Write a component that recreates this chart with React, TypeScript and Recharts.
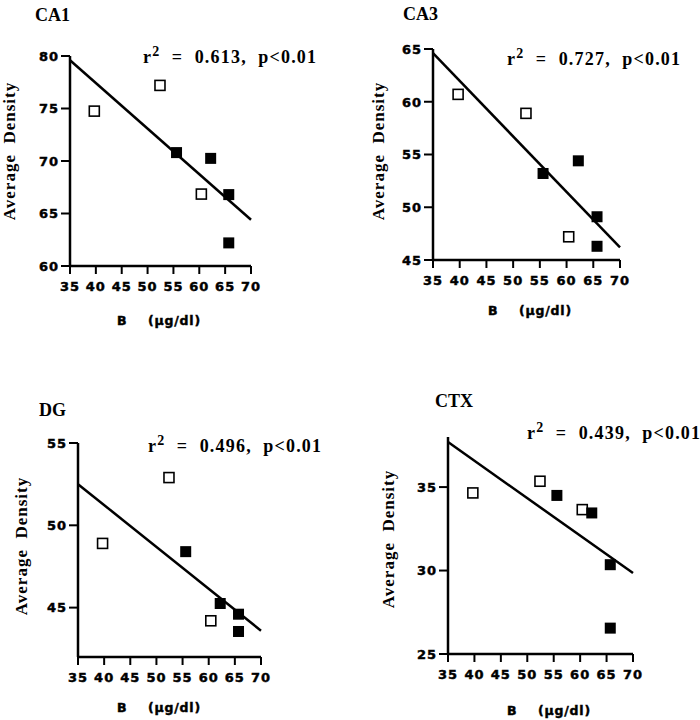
import { ScatterChart, Scatter, XAxis, YAxis, ReferenceLine } from "recharts";

// x values (blood lead, µg/dl) shared by all four regions
const OPEN_B = [39.7, 52.4, 60.4];
const FILLED_B = [55.6, 62.2, 65.7, 65.7];
const FIT_B = [35, 70];
const B_TICKS = [35, 40, 45, 50, 55, 60, 65, 70];

// CA1
const CA1_OPEN = [74.75, 77.2, 66.85];
const CA1_FILLED = [70.8, 70.25, 66.8, 62.2];
const CA1_FIT = [79.6, 64.4];
const CA1_TICKS = [60, 65, 70, 75, 80];

// CA3
const CA3_OPEN = [60.7, 58.9, 47.2];
const CA3_FILLED = [53.2, 54.4, 49.1, 46.3];
const CA3_FIT = [64.6, 46.2];
const CA3_TICKS = [45, 50, 55, 60, 65];

// DG
const DG_OPEN = [48.9, 52.9, 44.2];
const DG_FILLED = [48.4, 45.25, 44.6, 43.55];
const DG_FIT = [52.5, 43.6];
const DG_TICKS = [45, 50, 55];

// CTX
const CTX_OPEN = [34.65, 35.35, 33.65];
const CTX_FILLED = [34.5, 33.45, 30.35, 26.55];
const CTX_FIT = [37.7, 29.85];
const CTX_TICKS = [25, 30, 35];

const SERIF = "'Liberation Serif', 'Times New Roman', serif";
const SANS = "'DejaVu Sans', Arial, sans-serif";

const YW = 50;
const XH = 40;
const MT = 10;
const MR = 14;

const toPts = (xs: number[], ys: number[]) => xs.map((x, i) => ({ x, y: ys[i] }));

const OpenSquare = (p: any) => (
  <rect x={p.cx - 5} y={p.cy - 5} width={10} height={10} fill="#fff" stroke="#000" strokeWidth={1.6} />
);
const FilledSquare = (p: any) => (
  <rect x={p.cx - 5.5} y={p.cy - 5.5} width={11} height={11} fill="#000" />
);

// heavy, slightly spaced tick numbers like the original plot
const numStyle = {
  fill: "#000",
  stroke: "#000",
  strokeWidth: 0.45,
  fontFamily: SANS,
  fontWeight: "bold",
  fontSize: 13,
  letterSpacing: 1,
};
const XTick = (p: any) => (
  <text x={p.x} y={p.y} dy="0.72em" textAnchor="middle" {...numStyle}>
    {p.payload.value}
  </text>
);
const YTick = (p: any) => (
  <text x={p.x} y={p.y} dy="0.37em" textAnchor="end" {...numStyle}>
    {p.payload.value}
  </text>
);

interface PanelProps {
  box: [number, number, number, number];
  yDomain: [number, number];
  yTicks: number[];
  open: number[];
  filled: number[];
  fit: number[];
}

function Panel({ box, yDomain, yTicks, open, filled, fit }: PanelProps) {
  const [l, t, r, b] = box;
  return (
    <ScatterChart
      width={r - l + YW + MR}
      height={b - t + MT + XH}
      margin={{ top: MT, right: MR, bottom: 0, left: 0 }}
      style={{ position: "absolute", left: l - YW, top: t - MT }}
    >
      <XAxis
        type="number"
        dataKey="x"
        domain={[35, 70]}
        ticks={B_TICKS}
        interval={0}
        height={XH}
        axisLine={{ stroke: "#000", strokeWidth: 2.5 }}
        tickLine={{ stroke: "#000", strokeWidth: 2 }}
        tickSize={8}
        tickMargin={8}
        tick={XTick}
      />
      <YAxis
        type="number"
        dataKey="y"
        domain={yDomain}
        ticks={yTicks}
        interval={0}
        width={YW}
        axisLine={{ stroke: "#000", strokeWidth: 2.5 }}
        tickLine={{ stroke: "#000", strokeWidth: 2 }}
        tickSize={9}
        tickMargin={2}
        tick={YTick}
      />
      <ReferenceLine
        segment={toPts(FIT_B, fit)}
        stroke="#000"
        strokeWidth={2.5}
        ifOverflow="visible"
      />
      <Scatter data={toPts(OPEN_B, open)} shape={OpenSquare} isAnimationActive={false} />
      <Scatter data={toPts(FILLED_B, filled)} shape={FilledSquare} isAnimationActive={false} />
    </ScatterChart>
  );
}

function PanelText({ title, r2, titleAt, r2At, yLab, xLab }: {
  title: string;
  r2: string;
  titleAt: [number, number];
  r2At: [number, number];
  yLab: [number, number];
  xLab: [number, number];
}) {
  return (
    <g>
      <text x={titleAt[0]} y={titleAt[1]} fontFamily={SERIF} fontWeight="bold" fontSize={18}>
        {title}
      </text>
      <text
        x={r2At[0]}
        y={r2At[1]}
        fontFamily={SERIF}
        fontWeight="bold"
        fontSize={18}
        letterSpacing={1.2}
        style={{ whiteSpace: "pre" }}
      >
        r<tspan dy={-7} fontSize={14}>2</tspan>
        <tspan dy={7}>{`  =  ${r2},  p<0.01`}</tspan>
      </text>
      <text
        transform={`translate(${yLab[0]},${yLab[1]}) rotate(-90)`}
        textAnchor="middle"
        fontFamily={SERIF}
        fontWeight="bold"
        fontSize={17}
        letterSpacing={1}
        style={{ whiteSpace: "pre" }}
      >
        {"Average  Density"}
      </text>
      <text x={xLab[0]} y={xLab[1]} {...numStyle} fontSize={12.5} letterSpacing={0.8} style={{ whiteSpace: "pre" }}>
        {"B    (µg/dl)"}
      </text>
    </g>
  );
}

export default function App() {
  return (
    <div style={{ position: "absolute", left: 0, top: 0, width: 700, height: 720, background: "#fff" }}>
      <Panel box={[70, 56, 251, 266]} yDomain={[60, 80]} yTicks={CA1_TICKS} open={CA1_OPEN} filled={CA1_FILLED} fit={CA1_FIT} />
      <Panel box={[433, 49, 620, 260]} yDomain={[45, 65]} yTicks={CA3_TICKS} open={CA3_OPEN} filled={CA3_FILLED} fit={CA3_FIT} />
      <Panel box={[78, 443, 261, 657]} yDomain={[42, 55]} yTicks={DG_TICKS} open={DG_OPEN} filled={DG_FILLED} fit={DG_FIT} />
      <Panel box={[448, 437, 633, 654]} yDomain={[25, 38]} yTicks={CTX_TICKS} open={CTX_OPEN} filled={CTX_FILLED} fit={CTX_FIT} />
      <svg width={700} height={720} style={{ position: "absolute", left: 0, top: 0, pointerEvents: "none" }}>
        <PanelText title="CA1" r2="0.613" titleAt={[35, 21]} r2At={[143, 63]} yLab={[15, 151]} xLab={[117, 325]} />
        <PanelText title="CA3" r2="0.727" titleAt={[403, 20]} r2At={[507, 65]} yLab={[384, 151]} xLab={[488, 315]} />
        <PanelText title="DG" r2="0.496" titleAt={[39, 416]} r2At={[148, 452]} yLab={[27, 546]} xLab={[117, 712]} />
        <PanelText title="CTX" r2="0.439" titleAt={[435, 407]} r2At={[527, 439]} yLab={[394, 539]} xLab={[507, 715]} />
      </svg>
    </div>
  );
}
